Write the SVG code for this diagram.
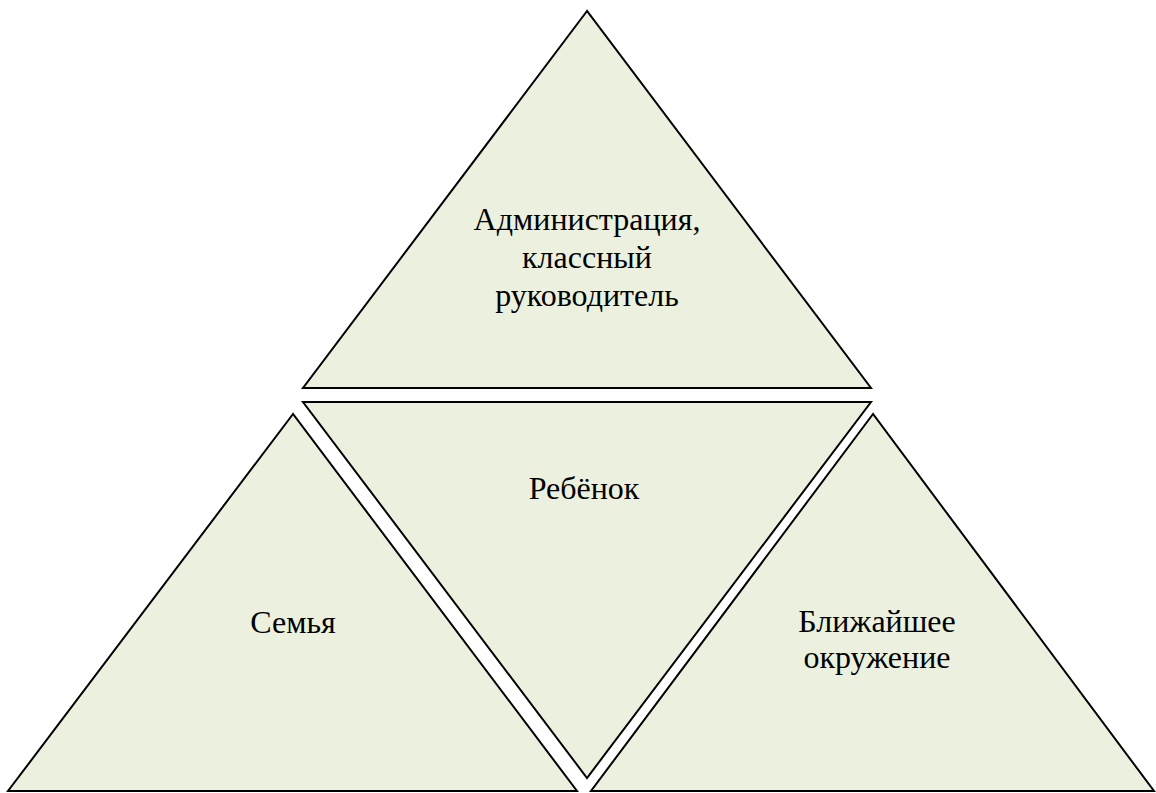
<svg xmlns="http://www.w3.org/2000/svg" width="1156" height="793" viewBox="0 0 1156 793">
<style>
.tri{fill:#EBF1DE;stroke:#000;stroke-width:2}
</style>
<rect width="1156" height="793" fill="#fff"/>
<g id="top">
<polygon class="tri" points="587,11 303,388 871,388"/>
<text font-family="Times New Roman" font-size="32" text-anchor="middle" x="587" y="230">Администрация,</text>
<text font-family="Times New Roman" font-size="32" text-anchor="middle" x="587" y="268">классный</text>
<text font-family="Times New Roman" font-size="32" text-anchor="middle" x="587" y="306">руководитель</text>
</g>
<g id="center">
<polygon class="tri" points="303,402 871,402 587,778"/>
<text font-family="Times New Roman" font-size="32" text-anchor="middle" x="584" y="499">Ребёнок</text>
</g>
<g id="left">
<polygon class="tri" points="293,414 8,791 577,791"/>
<text font-family="Times New Roman" font-size="32" text-anchor="middle" x="293" y="633">Семья</text>
</g>
<g id="right">
<polygon class="tri" points="873,414 591,791 1154,791"/>
<text font-family="Times New Roman" font-size="32" text-anchor="middle" x="877" y="632">Ближайшее</text>
<text font-family="Times New Roman" font-size="32" text-anchor="middle" x="877" y="668">окружение</text>
</g>
<g id="connectors"></g>
</svg>
